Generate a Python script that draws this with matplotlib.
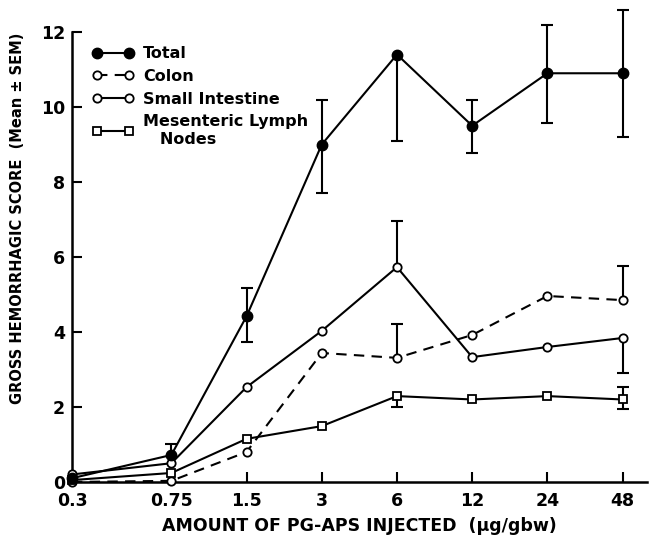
import numpy as np
import matplotlib
matplotlib.use("Agg")
import matplotlib.pyplot as plt

dose = [0.3, 0.75, 1.5, 3, 6, 12, 24, 48]
dose_labels = ["0.3", "0.75", "1.5", "3", "6", "12", "24", "48"]

total = [0.1, 0.72, 4.42, 9.0, 11.4, 9.5, 10.9, 10.9]
total_lo = [np.nan, np.nan, 3.73, 7.72, 9.09, 8.77, 9.57, 9.2]
total_hi = [np.nan, 1.0, 5.17, 10.2, np.nan, 10.2, 12.2, 12.6]

colon = [0.0, 0.03, 0.8, 3.44, 3.31, 3.92, 4.96, 4.85]
colon_lo = [np.nan] * 8
colon_hi = [np.nan, np.nan, np.nan, np.nan, 4.22, np.nan, np.nan, 5.76]

small_int = [0.2, 0.5, 2.53, 4.03, 5.73, 3.33, 3.6, 3.84]
small_lo = [np.nan, np.nan, np.nan, np.nan, np.nan, np.nan, np.nan, 2.9]
small_hi = [np.nan, np.nan, np.nan, np.nan, 6.96, np.nan, np.nan, np.nan]

lymph = [0.05, 0.24, 1.15, 1.49, 2.29, 2.2, 2.29, 2.2]
lymph_lo = [np.nan, np.nan, np.nan, np.nan, 2.0, np.nan, np.nan, 1.95]
lymph_hi = [np.nan, np.nan, np.nan, np.nan, np.nan, np.nan, np.nan, 2.53]

plt.rcParams['font.family'] = ['DejaVu Sans']
fig = plt.figure(figsize=(6.54, 5.39), dpi=100)
ax = fig.add_axes([0.110, 0.1058, 0.879, 0.8348])

lw = 1.5


def draw_err(vals, lo, hi):
    v = np.array(vals, dtype=float)
    lo = np.array(lo, dtype=float)
    hi = np.array(hi, dtype=float)
    bot = np.where(np.isnan(lo), v, lo)
    top = np.where(np.isnan(hi), v, hi)
    ax.vlines(dose, bot, top, color='black', lw=lw, zorder=2, clip_on=False)
    ax.plot(dose, lo, ls='none', marker='_', ms=9, mew=lw, color='black', zorder=2, clip_on=False)
    ax.plot(dose, hi, ls='none', marker='_', ms=9, mew=lw, color='black', zorder=2, clip_on=False)


draw_err(total, total_lo, total_hi)
draw_err(colon, colon_lo, colon_hi)
draw_err(small_int, small_lo, small_hi)
draw_err(lymph, lymph_lo, lymph_hi)

h_total, = ax.plot(dose, total, color='black', lw=lw, marker='o', ms=7.5,
                   mfc='black', mec='black', zorder=4, clip_on=False, label='Total')
h_colon, = ax.plot(dose, colon, color='black', lw=lw, ls=(0, (5, 3.5)), marker='o', ms=6,
                   mfc='white', mec='black', mew=1.3, zorder=3, clip_on=False, label='Colon')
h_small, = ax.plot(dose, small_int, color='black', lw=lw, marker='o', ms=6,
                   mfc='white', mec='black', mew=1.3, zorder=3, clip_on=False,
                   label='Small Intestine')
h_lymph, = ax.plot(dose, lymph, color='black', lw=lw, marker='s', ms=6,
                   mfc='white', mec='black', mew=1.3, zorder=3, clip_on=False,
                   label='Mesenteric Lymph\n   Nodes')

ax.set_xscale('log', base=2)
ax.set_xlim(0.3, 60)
ax.set_ylim(0, 12)
ax.set_xticks(dose)
ax.set_xticklabels(dose_labels)
ax.xaxis.set_minor_locator(matplotlib.ticker.NullLocator())
ax.set_yticks([0, 2, 4, 6, 8, 10, 12])

for s in ['top', 'right']:
    ax.spines[s].set_visible(False)
for s in ['left', 'bottom']:
    ax.spines[s].set_linewidth(1.8)

ax.tick_params(axis='both', direction='in', width=1.5, labelsize=12.5, length=7)
ax.tick_params(axis='x', pad=7)
ax.tick_params(axis='y', pad=5)
for t in ax.get_xticklabels() + ax.get_yticklabels():
    t.set_fontweight('bold')

ax.set_xlabel('AMOUNT OF PG-APS INJECTED  (\u03bcg/gbw)', fontsize=12.5, fontweight='bold', labelpad=5)
ax.set_ylabel('GROSS HEMORRHAGIC SCORE  (Mean \u00b1 SEM)', fontsize=10.5, fontweight='bold')
ax.yaxis.set_label_coords(-0.082, 0.587)

ax.legend([h_total, h_colon, h_small, h_lymph],
          [h.get_label() for h in [h_total, h_colon, h_small, h_lymph]],
          loc='upper left', bbox_to_anchor=(0.01, 1.0), frameon=False, numpoints=2,
          handlelength=2.6, prop={'size': 11.5, 'weight': 'bold'},
          labelspacing=0.48, handletextpad=0.6)

fig.savefig('out.png', dpi=100)
